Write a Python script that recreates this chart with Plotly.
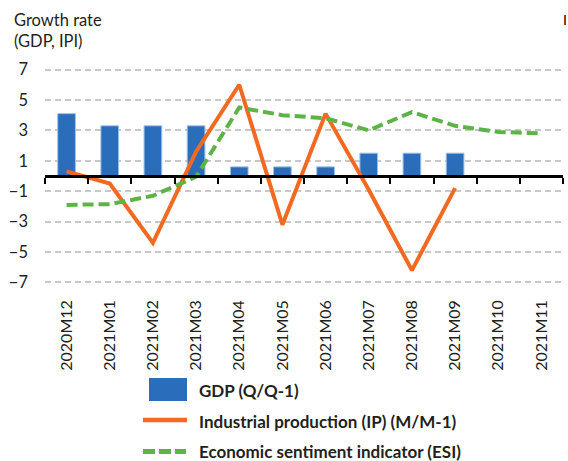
import plotly.graph_objects as go

# Monthly periods on the category axis
months = ["2020M12", "2021M01", "2021M02", "2021M03", "2021M04", "2021M05",
          "2021M06", "2021M07", "2021M08", "2021M09", "2021M10", "2021M11"]

# Quarterly GDP growth (Q/Q-1), repeated across the months of each quarter
gdp = [4.1, 3.3, 3.3, 3.3, 0.6, 0.6, 0.6, 1.5, 1.5, 1.5, None, None]

# Industrial production growth (M/M-1)
ip = [0.3, -0.5, -4.4, 1.6, 6.0, -3.2, 4.1, -0.9, -6.2, -0.8, None, None]

# Economic sentiment indicator
esi = [-1.9, -1.85, -1.3, -0.05, 4.5, 4.0, 3.8, 3.0, 4.2, 3.3, 2.9, 2.8]

y_ticks = [-7, -5, -3, -1, 1, 3, 5, 7]

BLUE = "#2a6ebb"
ORANGE = "#f26a21"
GREEN = "#5db446"
TEXT = "#231f20"
FONT = "Lato"

W, H = 568, 461
ML, MR, MT, MB = 45, 5, 68, 177
PW, PH = W - ML - MR, H - MT - MB


def px(x):
    return (x - ML) / PW


def py(y):
    return (H - MB - y) / PH


fig = go.Figure()

fig.add_trace(go.Bar(
    x=months, y=gdp, name="GDP (Q/Q-1)", width=0.41,
    marker=dict(color=BLUE, line=dict(color="#9cc0e8", width=1)),
    xaxis="x", yaxis="y",
))
fig.add_trace(go.Scatter(
    x=months, y=ip, name="Industrial production (IP) (M/M-1)",
    mode="lines", line=dict(color=ORANGE, width=4),
    xaxis="x2", yaxis="y",
))
fig.add_trace(go.Scatter(
    x=months, y=esi, name="Economic sentiment indicator (ESI)",
    mode="lines", line=dict(color=GREEN, width=4, dash="11px,5px"),
    xaxis="x2", yaxis="y",
))

cat_axis = dict(type="category", categoryorder="array", categoryarray=months,
                range=[-0.5, len(months) - 0.5], fixedrange=True)

fig.update_layout(
    width=W, height=H,
    margin=dict(l=ML, r=MR, t=MT, b=MB),
    paper_bgcolor="white", plot_bgcolor="white",
    showlegend=False,
    font=dict(family=FONT, color=TEXT),
    xaxis=dict(**cat_axis, showgrid=False, showline=False, zeroline=False,
               ticks="", tickangle=-90, ticklabelstandoff=12,
               tickfont=dict(size=16, color=TEXT, family=FONT)),
    # axis line drawn through zero with tick marks between months
    xaxis2=dict(**cat_axis, overlaying="x", anchor="free", position=0.5,
                showgrid=False, zeroline=False, showticklabels=False,
                showline=True, linecolor="black", linewidth=2.5,
                ticks="outside", tickson="boundaries", ticklen=6,
                tickwidth=2, tickcolor="black"),
    yaxis=dict(range=[-7.1, 7.1], tickvals=y_ticks, showgrid=True,
               gridcolor="#c8c8c8", gridwidth=1.5, griddash="6px,4px",
               zeroline=False, showline=False, ticks="",
               ticklabelstandoff=16, fixedrange=True,
               tickfont=dict(size=16.5, color=TEXT, family=FONT)),
    bargap=0.59,
)

# Axis title in the top-left corner
fig.add_annotation(text="Growth rate<br>(GDP, IPI)", xref="paper", yref="paper",
                   x=px(12), y=py(8), xanchor="left", yanchor="top",
                   align="left", showarrow=False,
                   font=dict(size=16.5, color=TEXT, family=FONT))
fig.add_annotation(text="I", xref="paper", yref="paper",
                   x=px(565), y=py(20), xanchor="center", yanchor="middle",
                   showarrow=False, font=dict(size=14, color="#000000",
                                              family=FONT))

# Legend below the chart
legend_rows = [
    ("GDP (Q/Q-1)", 390),
    ("Industrial production (IP) (M/M-1)", 421),
    ("Economic sentiment indicator (ESI)", 451),
]
fig.add_shape(type="rect", xref="paper", yref="paper",
              x0=px(149), x1=px(187), y0=py(378), y1=py(401),
              fillcolor=BLUE, line=dict(width=0))
fig.add_shape(type="line", xref="paper", yref="paper",
              x0=px(143), x1=px(187), y0=py(420), y1=py(420),
              line=dict(color=ORANGE, width=4.5))
for a, b in [(143, 155), (159, 171), (175, 186)]:
    fig.add_shape(type="line", xref="paper", yref="paper",
                  x0=px(a), x1=px(b), y0=py(451.5), y1=py(451.5),
                  line=dict(color=GREEN, width=5))
for label, yc in legend_rows:
    fig.add_annotation(text=f"<b>{label}</b>", xref="paper", yref="paper",
                       x=px(197), y=py(yc), xanchor="left", yanchor="middle",
                       showarrow=False,
                       font=dict(size=17, color=TEXT, family=FONT))

fig.write_html("out.html")
